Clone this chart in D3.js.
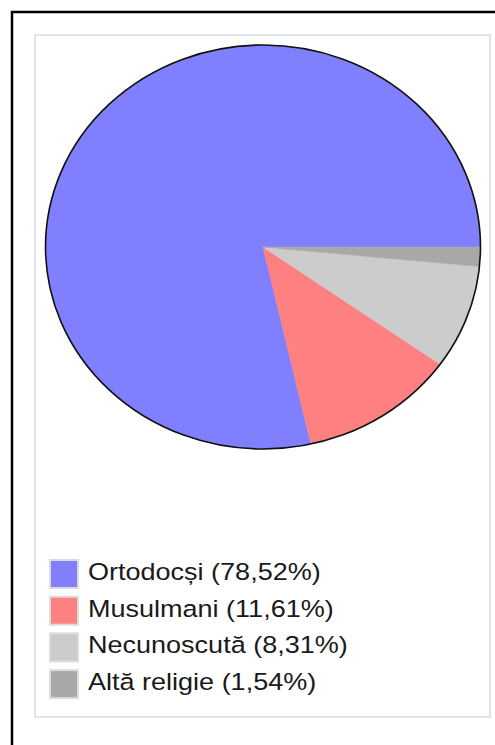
<!DOCTYPE html>
<html>
<head>
<meta charset="utf-8">
<script src="https://cdn.jsdelivr.net/npm/d3@7"></script>
<style>
html,body{margin:0;padding:0;background:#fff;}
svg{display:block;}
</style>
</head>
<body>
<svg id="chart" width="495" height="745"></svg>
<script>
const categories = ["Ortodocși", "Musulmani", "Necunoscută", "Altă religie"];
const values = [78.52, 11.61, 8.31, 1.54];
const labels = ["78,52%", "11,61%", "8,31%", "1,54%"];
const colors = ["#8080ff", "#ff8080", "#cccccc", "#a8a8a8"];

const svg = d3.select("#chart");

// outer black frame (extends beyond right/bottom)
svg.append("rect").attr("x", 12).attr("y", 12).attr("width", 700).attr("height", 900)
  .attr("fill", "none").attr("stroke", "#000").attr("stroke-width", 2.5);

// inner light frame
svg.append("rect").attr("x", 35).attr("y", 35).attr("width", 455).attr("height", 682)
  .attr("fill", "#fff").attr("stroke", "#e0e3ea").attr("stroke-width", 2);

const cx = 263, cy = 247, rx = 217.5, ry = 202;

const pie = d3.pie().sort(null).value(d => d)
  .startAngle(Math.PI / 2).endAngle(Math.PI / 2 - 2 * Math.PI);
const arc = d3.arc().innerRadius(0).outerRadius(ry);

const g = svg.append("g").attr("transform", `translate(${cx},${cy}) scale(${rx / ry},1)`);
g.selectAll("path.slice").data(pie(values)).join("path")
  .attr("class", "slice")
  .attr("d", arc)
  .attr("fill", (d, i) => colors[i])
  .attr("stroke", (d, i) => colors[i])
  .attr("stroke-width", 0.5);

svg.append("ellipse").attr("cx", cx).attr("cy", cy).attr("rx", rx).attr("ry", ry)
  .attr("fill", "none").attr("stroke", "#111").attr("stroke-width", 1.6);

// legend
const ly = d3.scaleBand().domain(categories).range([559, 559 + 36.7 * 4]).paddingInner(0);
const leg = svg.append("g");
const row = leg.selectAll("g").data(categories).join("g")
  .attr("transform", d => `translate(0,${ly(d)})`);
row.append("rect").attr("x", 50).attr("y", 1).attr("width", 28).attr("height", 28)
  .attr("fill", (d, i) => colors[i]).attr("stroke", "#dcdcdc").attr("stroke-width", 2);
row.append("text")
  .attr("transform", "translate(88,21) scale(1.15,1)")
  .attr("font-family", "'Liberation Sans', Arial, sans-serif")
  .attr("font-size", 23.5)
  .attr("fill", "#1a1a1a")
  .text((d, i) => `${d} (${labels[i]})`);
</script>
</body>
</html>
